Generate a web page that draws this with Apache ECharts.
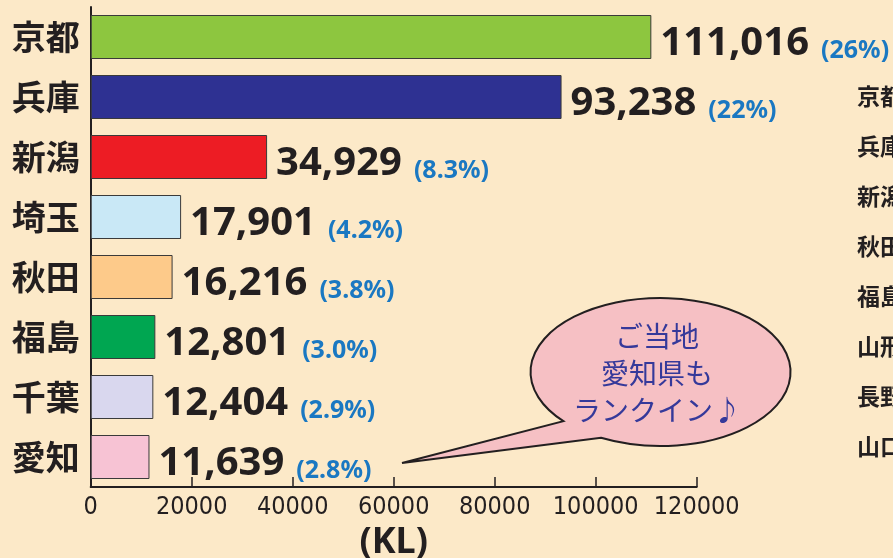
<!DOCTYPE html>
<html>
<head>
<meta charset="utf-8">
<script src="https://cdn.jsdelivr.net/npm/echarts@6/dist/echarts.min.js"></script>
<style>
  html, body { margin: 0; padding: 0; background: #fce9c8; }
  #chart { width: 893px; height: 558px; }
</style>
</head>
<body>
<div id="chart"></div>
<script>
// 都道府県別 生産量 (KL)
const prefectures = ['京都', '兵庫', '新潟', '埼玉', '秋田', '福島', '千葉', '愛知']
const volumes = [111016, 93238, 34929, 17901, 16216, 12801, 12404, 11639]
const shares = ['26%', '22%', '8.3%', '4.2%', '3.8%', '3.0%', '2.9%', '2.8%']
const barColors = ['#8dc63f', '#2e3192', '#ed1c24', '#c9e8f6', '#fdca8a', '#00a651', '#d9d7ee', '#f7c3d4']
const xTicks = [0, 120000, 20000] // min, max, interval
// 右端の見切れた一覧
const sideNames = ['京都', '兵庫', '新潟', '秋田', '福島', '山形', '長野', '山口']
const bubbleLines = ['ご当地', '愛知県も', 'ランクイン♪']

// 吹き出しの形
echarts.graphic.registerShape('bubble', echarts.graphic.extendPath(
  'M 563.4 421.2 A 130 74 0 1 1 601 437.8 L 402 463 Z', {}
))

const chart = echarts.init(document.getElementById('chart'))

const cjk = "'Noto Sans CJK JP', 'Noto Sans', sans-serif"
const ink = '#231f20'

const sideTexts = sideNames.map((name, i) => ({
  type: 'text',
  left: 857,
  top: 99 + i * 49.9 - 14,
  style: {
    text: name,
    font: 'bold 23px ' + cjk,
    fill: ink
  }
}))

const option = {
  backgroundColor: '#fce9c8',
  animation: false,
  grid: {
    left: 90.7,
    right: 196.3,
    top: 7,
    bottom: 71,
    outerBoundsMode: 'none'
  },
  xAxis: {
    type: 'value',
    min: xTicks[0],
    max: xTicks[1],
    interval: xTicks[2],
    name: '(KL)',
    nameLocation: 'middle',
    nameGap: 29,
    nameTextStyle: {
      color: ink,
      fontSize: 36,
      fontWeight: 'bold',
      fontFamily: "'Noto Sans', sans-serif"
    },
    axisLine: { show: true, lineStyle: { color: ink, width: 2 } },
    axisTick: { show: true, inside: true, length: 10, lineStyle: { color: ink, width: 1.5 } },
    axisLabel: {
      color: ink,
      fontSize: 25,
      margin: 8,
      showMinLabel: true,
      showMaxLabel: true,
      hideOverlap: false,
      formatter: (v) => String(v),
      fontFamily: "'DejaVu Sans Condensed', 'Liberation Sans Narrow', 'Liberation Sans', sans-serif"
    },
    splitLine: { show: false }
  },
  yAxis: {
    type: 'category',
    inverse: true,
    data: prefectures,
    axisLine: { show: true, lineStyle: { color: ink, width: 2 } },
    axisTick: { show: false },
    axisLabel: {
      color: ink,
      fontSize: 34,
      fontWeight: 'bold',
      fontFamily: cjk,
      margin: 11
    }
  },
  series: [
    {
      type: 'bar',
      barWidth: 44,
      data: volumes.map((v, i) => ({
        value: v,
        itemStyle: { color: barColors[i] }
      })),
      itemStyle: {
        borderColor: '#3a3a3a',
        borderWidth: 1
      },
      label: {
        show: true,
        position: 'right',
        distance: 9,
        offset: [0, 7],
        formatter: (p) => '{v|' + p.value.toLocaleString('en-US') + '}{p|(' + shares[p.dataIndex] + ')}',
        rich: {
          v: {
            color: ink,
            fontSize: 40,
            fontWeight: 'bold',
            fontFamily: "'Noto Sans', sans-serif",
            padding: [0, 12, 0, 0]
          },
          p: {
            color: '#1a78c2',
            fontSize: 25,
            fontWeight: 'bold',
            fontFamily: "'Noto Sans', sans-serif",
            padding: [14, 0, 0, 0]
          }
        }
      }
    }
  ],
  graphic: [
    {
      type: 'bubble',
      style: {
        fill: '#f6c0c4',
        stroke: ink,
        lineWidth: 2
      },
      z: 10
    },
    {
      type: 'text',
      x: 657,
      y: 373,
      style: {
        text: bubbleLines.join('\n'),
        font: '28px ' + cjk,
        lineHeight: 37,
        fill: '#35399a',
        align: 'center',
        verticalAlign: 'middle'
      },
      z: 11
    }
  ].concat(sideTexts)
}

chart.setOption(option)
</script>
</body>
</html>
